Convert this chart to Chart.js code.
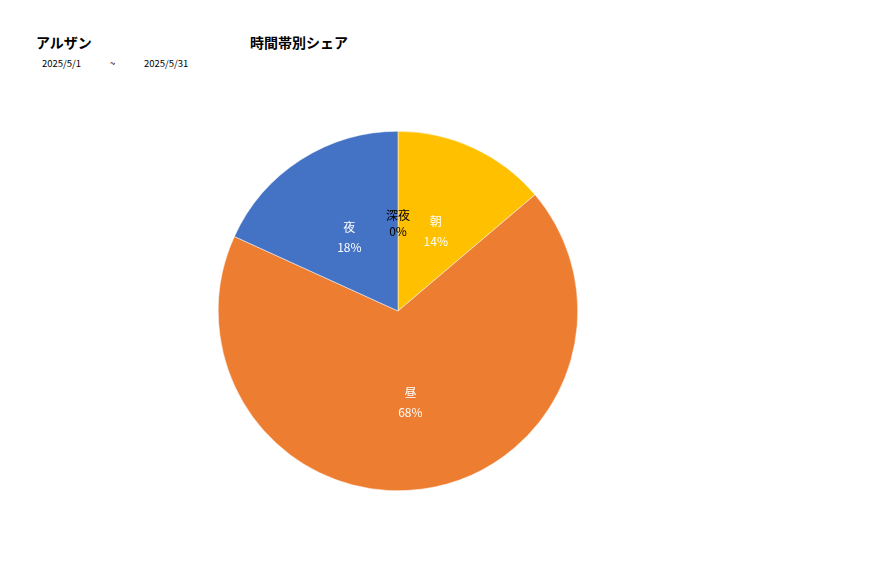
<!DOCTYPE html>
<html>
<head>
<meta charset="utf-8">
<script src="https://cdn.jsdelivr.net/npm/chart.js@4"></script>
<style>
  body { margin: 0; background: #fff; font-family: "Noto Sans CJK JP", "Noto Sans", sans-serif; }
  #wrap { position: relative; width: 877px; height: 578px; }
  .t { position: absolute; white-space: nowrap; color: #000; }
  .title { font-size: 14px; font-weight: bold; }
  .date { font-size: 9.5px; }
  #pie { position: absolute; left: 218px; top: 131px; }
</style>
</head>
<body>
<div id="wrap">
  <div class="t title" style="left:36px;top:32px;">アルザン</div>
  <div class="t title" style="left:250px;top:32px;">時間帯別シェア</div>
  <div class="t date" style="left:42px;top:56px;">2025/5/1</div>
  <div class="t date" style="left:110px;top:56px;">~</div>
  <div class="t date" style="left:144px;top:56px;">2025/5/31</div>
  <canvas id="pie" width="360" height="360"></canvas>
</div>
<script>
const categories = ["朝", "昼", "夜", "深夜"];
const shares = [13.8, 68.0, 18.2, 0];
const sliceColors = ["#FFC000", "#ED7D31", "#4472C4", "#A5A5A5"];
const labelColors = ["#fff", "#fff", "#fff", "#000"];

// draws category name + percent inside each slice at half radius
const sliceLabels = {
  id: "sliceLabels",
  afterDatasetsDraw(chart) {
    const ctx = chart.ctx;
    const meta = chart.getDatasetMeta(0);
    const total = shares.reduce((a, b) => a + b, 0);
    ctx.save();
    ctx.font = '12px "Noto Sans CJK JP", sans-serif';
    ctx.textAlign = "center";
    ctx.textBaseline = "middle";
    meta.data.forEach((arc, i) => {
      const p = arc.getProps(["x", "y", "startAngle", "endAngle", "outerRadius"], true);
      const mid = (p.startAngle + p.endAngle) / 2;
      const r = p.outerRadius * 0.5;
      const x = p.x + Math.cos(mid) * r;
      const y = p.y + Math.sin(mid) * r;
      const pct = Math.round((shares[i] / total) * 100) + "%";
      const gap = shares[i] === 0 ? 8 : 10;
      ctx.fillStyle = labelColors[i];
      ctx.fillText(categories[i], x, y + 2 - gap);
      ctx.fillText(pct, x, y + 2 + gap);
    });
    ctx.restore();
  },
};

new Chart(document.getElementById("pie"), {
  type: "pie",
  data: {
    labels: categories,
    datasets: [
      {
        data: shares,
        backgroundColor: sliceColors,
        borderColor: "#fff",
        borderWidth: 0.5,
      },
    ],
  },
  options: {
    responsive: false,
    animation: false,
    layout: { padding: 0 },
    plugins: {
      legend: { display: false },
      tooltip: { enabled: false },
    },
  },
  plugins: [sliceLabels],
});
</script>
</body>
</html>
